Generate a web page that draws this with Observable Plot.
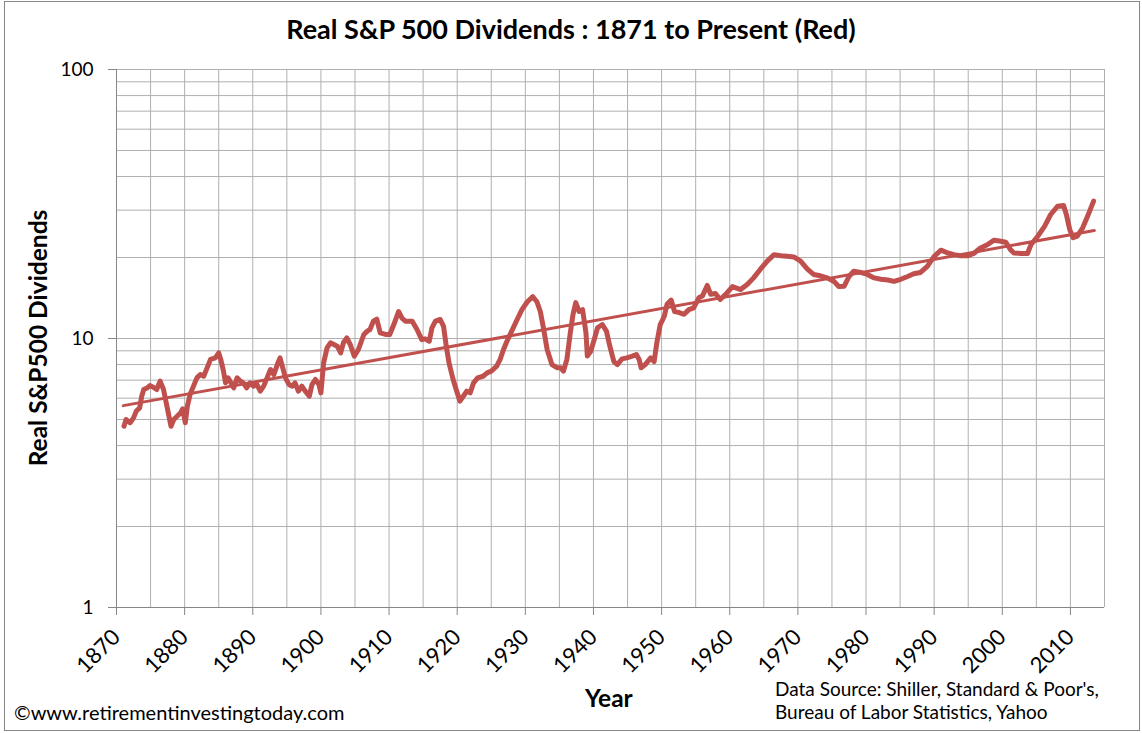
<!DOCTYPE html>
<html><head><meta charset="utf-8">
<script src="https://cdn.jsdelivr.net/npm/d3@7"></script>
<script src="https://cdn.jsdelivr.net/npm/@observablehq/plot@0.6"></script>
<style>
body{margin:0;background:#fff;font-family:Lato,"Open Sans",sans-serif;}
#wrap{position:relative;width:1142px;height:733px;overflow:hidden;background:#fff}
#chart{position:absolute;left:0;top:0}
#frame{position:absolute;left:4px;top:1px;width:1136px;height:730px;border:1px solid #868686;box-sizing:border-box;pointer-events:none}
.t{position:absolute;white-space:nowrap;color:#000;line-height:1}
</style></head><body>
<div id="wrap">
<div id="chart"></div>
<div id="frame"></div>
<div class="t" id="title" style="left:0;width:1142px;text-align:center;top:15px;font-size:27px;font-weight:bold">Real S&amp;P 500 Dividends : 1871 to Present (Red)</div>
<div class="t" id="ylab" style="left:38px;top:338px;font-size:24.5px;font-weight:bold;transform:translate(-50%,-50%) rotate(-90deg)">Real S&amp;P500 Dividends</div>
<div class="t" id="xlab" style="left:585px;top:686px;font-size:24.5px;font-weight:bold">Year</div>
<div class="t" id="copy" style="left:14px;top:702px;font-size:20px">©www.retirementinvestingtoday.com</div>
<div class="t" id="src" style="left:775px;top:677px;font-size:19px;line-height:23px">Data Source: Shiller, Standard &amp; Poor's,<br>Bureau of Labor Statistics, Yahoo</div>
</div>
<script>
const years = [1871.1,1871.4,1872.0,1872.5,1872.9,1873.4,1873.7,1874.0,1874.5,1874.9,1875.4,1875.9,1876.4,1876.9,1877.4,1878.0,1878.4,1878.9,1879.4,1879.7,1880.1,1880.4,1880.8,1881.3,1881.8,1882.3,1882.8,1883.3,1883.8,1884.5,1885.0,1885.3,1885.7,1886.0,1886.4,1887.2,1887.7,1888.2,1888.6,1889.1,1889.6,1890.1,1890.6,1891.1,1891.6,1892.1,1892.6,1893.1,1893.6,1894.0,1894.4,1894.8,1895.3,1895.8,1896.2,1896.7,1897.2,1897.7,1898.3,1898.7,1899.2,1899.7,1900.0,1900.4,1900.9,1901.4,1901.9,1902.4,1902.9,1903.3,1903.8,1904.3,1904.9,1905.5,1906.3,1906.8,1907.2,1907.7,1908.2,1908.7,1909.5,1910.1,1910.7,1911.4,1911.9,1912.4,1913.4,1914.1,1914.8,1915.3,1915.9,1916.3,1916.8,1917.5,1918.0,1918.4,1918.8,1919.4,1920.0,1920.4,1920.9,1921.4,1921.9,1922.4,1923.0,1923.8,1924.4,1925.0,1925.8,1926.3,1926.8,1927.3,1928.0,1928.8,1929.5,1930.3,1931.1,1931.7,1932.2,1932.7,1933.2,1933.9,1934.7,1935.2,1935.6,1936.1,1936.6,1937.0,1937.4,1937.9,1938.4,1938.9,1939.1,1939.6,1940.1,1940.6,1941.3,1941.9,1942.4,1943.0,1943.5,1944.2,1944.9,1945.7,1946.3,1946.7,1947.0,1947.6,1948.4,1948.9,1949.3,1949.8,1950.4,1950.8,1951.4,1951.9,1952.5,1953.3,1954.0,1954.7,1955.5,1956.0,1956.7,1957.2,1957.9,1958.6,1959.4,1960.4,1961.6,1962.6,1963.5,1964.5,1965.5,1966.5,1967.5,1968.4,1969.4,1970.4,1971.4,1972.3,1973.3,1974.3,1975.3,1976.0,1976.8,1977.5,1978.2,1979.2,1980.2,1981.2,1982.2,1983.2,1984.1,1985.1,1986.1,1987.0,1988.0,1989.0,1990.0,1991.0,1992.0,1992.9,1993.9,1994.9,1995.8,1996.8,1997.8,1998.8,1999.8,2000.5,2001.2,2001.7,2002.7,2003.7,2004.2,2005.2,2006.2,2007.1,2008.1,2009.0,2009.4,2009.9,2010.4,2011.0,2011.8,2012.5,2013.4];
const dividends = [4.72,5.0,4.86,5.07,5.37,5.52,6.1,6.46,6.55,6.68,6.59,6.46,6.94,6.46,5.6,4.72,5.0,5.14,5.29,5.48,4.86,5.6,6.19,6.65,7.14,7.35,7.24,7.78,8.36,8.47,8.84,8.36,7.56,6.84,7.14,6.55,7.14,6.94,6.84,6.55,6.84,6.65,6.75,6.37,6.65,7.14,7.67,7.35,8.0,8.47,7.78,7.14,6.75,6.65,6.84,6.37,6.65,6.37,6.1,6.75,7.04,6.75,6.28,8.12,9.23,9.64,9.5,9.36,8.84,9.64,10.06,9.5,8.6,9.1,10.35,10.65,10.8,11.6,11.8,10.5,10.35,10.35,11.27,12.6,11.9,11.6,11.6,10.8,9.9,9.97,9.77,10.96,11.6,11.77,11.1,9.36,8.12,7.04,6.28,5.85,6.1,6.37,6.28,6.84,7.14,7.24,7.45,7.56,7.89,8.36,9.1,9.77,10.65,11.77,12.8,13.7,14.3,13.7,12.6,10.8,9.1,8.0,7.78,7.78,7.56,8.36,10.5,12.3,13.6,12.6,12.8,10.5,8.6,8.96,9.9,10.96,11.27,10.65,9.36,8.2,8.0,8.4,8.47,8.6,8.72,8.36,7.78,8.0,8.47,8.2,9.64,11.27,12.1,13.4,13.9,12.6,12.5,12.3,12.8,13.0,14.2,14.4,15.75,14.6,14.7,13.96,14.6,15.6,15.2,15.9,16.8,18.1,19.4,20.5,20.3,20.2,20.1,19.4,18.1,17.3,17.1,16.8,16.3,15.6,15.65,17.0,17.8,17.6,17.3,16.8,16.6,16.5,16.3,16.6,17.0,17.4,17.6,18.55,20.2,21.3,20.8,20.5,20.3,20.3,20.7,21.7,22.3,23.2,23.0,22.8,21.4,20.8,20.7,20.7,22.3,24.0,26.1,28.9,31.0,31.2,28.9,25.4,23.7,24.0,25.8,28.4,32.4];
const trendYears = [1871, 2013.5];
const trendValues = [5.63, 25.2];
const xTicks = [1870,1880,1890,1900,1910,1920,1930,1940,1950,1960,1970,1980,1990,2000,2010];
const xGrid = [1875,1880,1885,1890,1895,1900,1905,1910,1915,1920,1925,1930,1935,1940,1945,1950,1955,1960,1965,1970,1975,1980,1985,1990,1995,2000,2005,2010,2015];
const yTicks = [1,10,100];
const yGrid = [2,3,4,5,6,7,8,9,10,20,30,40,50,60,70,80,90,100];

const data = years.map((y,i)=>({year:y, value:dividends[i]}));
const trend = trendYears.map((y,i)=>({year:y, value:trendValues[i]}));

const chart = Plot.plot({
  width:1142, height:733,
  marginLeft:116, marginRight:38, marginTop:69, marginBottom:126,
  x:{domain:[1870,2015]},
  y:{type:"log", domain:[1,100]},
  style:{fontFamily:"Lato, sans-serif", background:"transparent", color:"#000"},
  marks:[
    Plot.ruleY(yGrid,{stroke:"#b0b0b0", strokeWidth:1}),
    Plot.ruleX(xGrid,{stroke:"#b0b0b0", strokeWidth:1}),
    Plot.axisY({ticks:yTicks, tickSize:8, tickPadding:15, tickFormat:d=>String(d), fontSize:19, label:null, stroke:"#868686"}),
    Plot.axisX({ticks:xTicks, tickSize:8, tickPadding:18, tickFormat:d=>String(d), tickRotate:-45, fontSize:22, label:null, stroke:"#868686"}),
    Plot.ruleY([1],{stroke:"#868686"}),
    Plot.ruleX([1870],{stroke:"#868686"}),
    Plot.line(trend,{x:"year", y:"value", stroke:"#C0504D", strokeWidth:3}),
    Plot.line(data,{x:"year", y:"value", stroke:"#C0504D", strokeWidth:5, strokeLinejoin:"round", strokeLinecap:"round"})
  ]
});
document.getElementById("chart").appendChild(chart);
</script>
</body></html>
